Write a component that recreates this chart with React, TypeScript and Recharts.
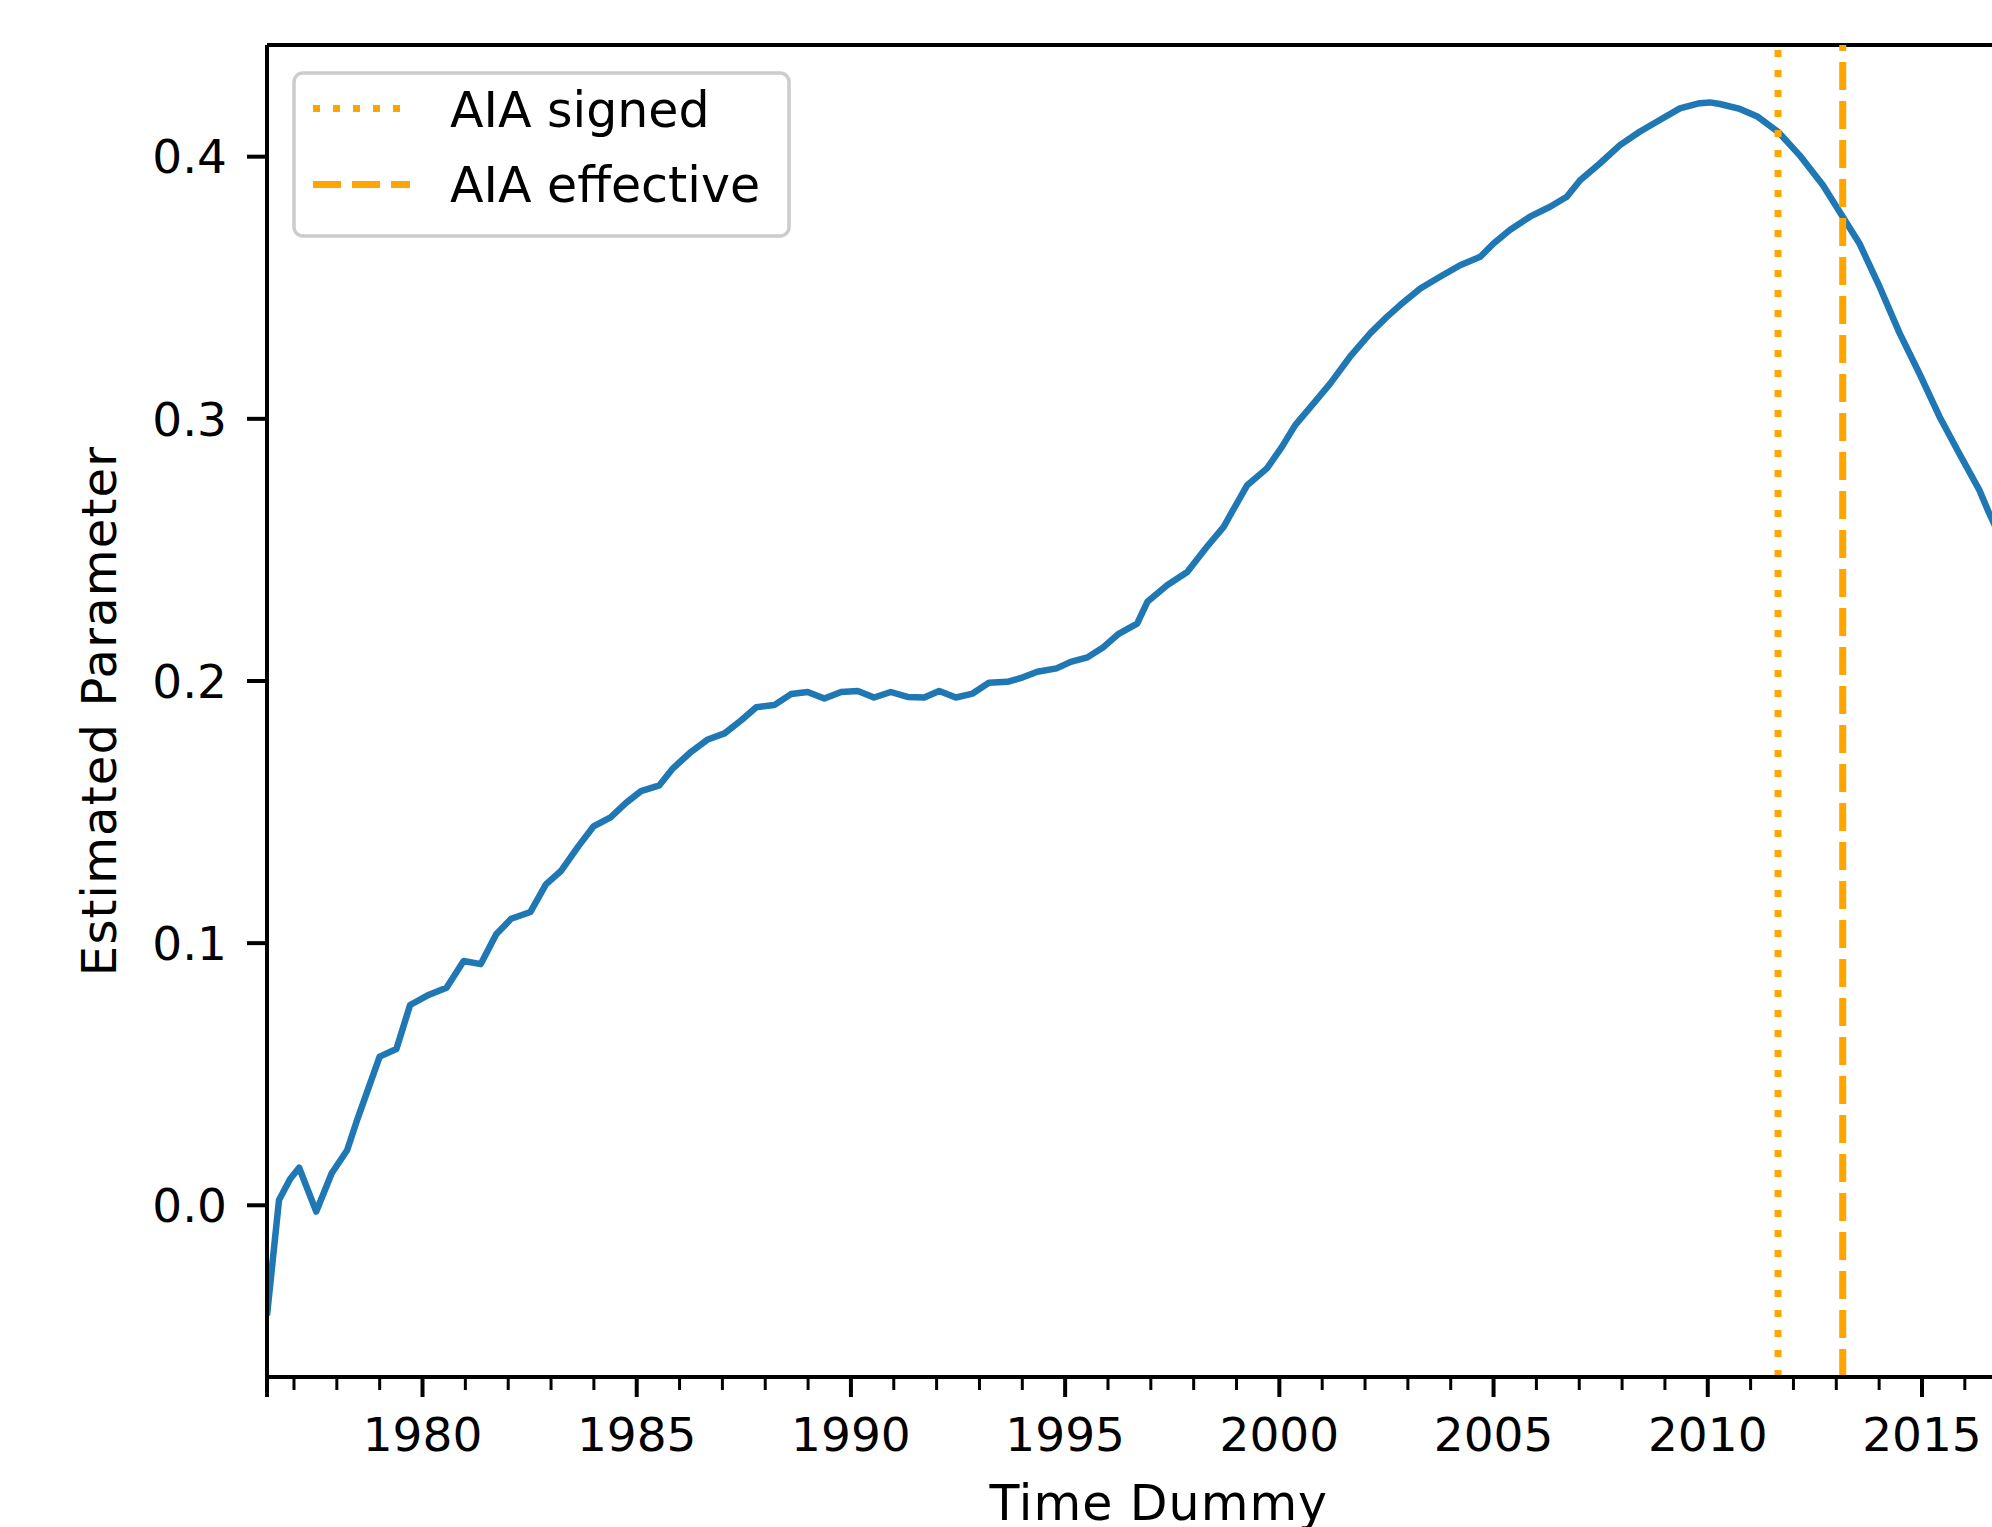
import { LineChart, Line, XAxis, YAxis, ReferenceLine, Legend, Label } from 'recharts'

// time dummy (decimal year) and estimated parameter
const years = [
  1976.37, 1976.65, 1976.91, 1977.12, 1977.52, 1977.88, 1978.24, 1978.46, 1978.73, 1979.0,
  1979.39, 1979.71, 1980.11, 1980.56, 1980.96, 1981.36, 1981.72, 1982.07, 1982.52, 1982.88,
  1983.23, 1983.64, 1983.99, 1984.39, 1984.75, 1985.1, 1985.53, 1985.84, 1986.27, 1986.66,
  1987.05, 1987.44, 1987.79, 1988.21, 1988.6, 1988.99, 1989.38, 1989.77, 1990.16, 1990.54,
  1990.93, 1991.32, 1991.71, 1992.06, 1992.45, 1992.84, 1993.22, 1993.65, 1994.0, 1994.35,
  1994.8, 1995.13, 1995.52, 1995.9, 1996.25, 1996.68, 1996.92, 1997.38, 1997.85, 1998.31,
  1998.7, 1998.94, 1999.25, 1999.71, 2000.06, 2000.37, 2000.8, 2001.19, 2001.65, 2002.12,
  2002.51, 2002.82, 2003.29, 2003.75, 2004.22, 2004.69, 2005.0, 2005.38, 2005.85, 2006.32,
  2006.71, 2007.02, 2007.48, 2007.95, 2008.41, 2008.88, 2009.35, 2009.81, 2010.05, 2010.28,
  2010.75, 2011.17, 2011.64, 2012.14, 2012.69, 2013.15, 2013.54, 2014.01, 2014.48, 2014.94,
  2015.41, 2015.87, 2016.34, 2016.57, 2017.0, 2017.5, 2018.0,
]

const estimates = [
  -0.042, 0.002, 0.01, 0.0143, -0.0024, 0.0122, 0.021, 0.0319, 0.0443, 0.0567,
  0.0596, 0.0764, 0.08, 0.083, 0.0932, 0.092, 0.1034, 0.1093, 0.1119, 0.1224,
  0.1275, 0.137, 0.1445, 0.148, 0.1535, 0.158, 0.1602, 0.1666, 0.173, 0.1777,
  0.18, 0.185, 0.19, 0.1908, 0.195, 0.1958, 0.1933, 0.1958, 0.1962, 0.1937,
  0.1958, 0.1939, 0.1937, 0.1962, 0.1937, 0.1952, 0.1993, 0.1997, 0.2013, 0.2035,
  0.2048, 0.2073, 0.209, 0.213, 0.218, 0.2219, 0.2302, 0.2365, 0.2416, 0.2512,
  0.2588, 0.2658, 0.2747, 0.2811, 0.2893, 0.2976, 0.3059, 0.3135, 0.3237, 0.3326,
  0.3389, 0.3434, 0.3497, 0.3542, 0.3586, 0.3618, 0.3669, 0.372, 0.3771, 0.3809,
  0.3847, 0.391, 0.3974, 0.4044, 0.4095, 0.414, 0.4184, 0.4204, 0.4207, 0.4201,
  0.4182, 0.4152, 0.4095, 0.4006, 0.3891, 0.3771, 0.3669, 0.3504, 0.3326, 0.3173,
  0.3008, 0.2868, 0.2728, 0.2639, 0.249, 0.232, 0.215,
]

const eventNames = ['AIA signed', 'AIA effective']
const eventYears = [2011.64, 2013.15]

const majorYears = [1980, 1985, 1990, 1995, 2000, 2005, 2010, 2015]
const minorYears = [
  1977, 1978, 1979, 1981, 1982, 1983, 1984, 1986, 1987, 1988, 1989, 1991, 1992, 1993, 1994,
  1996, 1997, 1998, 1999, 2001, 2002, 2003, 2004, 2006, 2007, 2008, 2009, 2011, 2012, 2013,
  2014, 2016, 2017,
]
const yTicks = [0, 0.1, 0.2, 0.3, 0.4]

const X_MIN = 1976.37
const X_MAX = 2018.0
const Y_MIN = -0.0655
const Y_MAX = 0.4426

const FONT = '"DejaVu Sans", sans-serif'
const ORANGE = '#ffa500'
const BLUE = '#1f77b4'
const eventDash = ['7 13', '28 11']

const data = years.map((t, i) => ({ t, v: estimates[i] }))
const xTicks = [X_MIN, ...majorYears, ...minorYears].sort((a, b) => a - b)

function YearTick(props: any) {
  const { x, y, payload } = props
  const val = payload.value
  const labelled = majorYears.includes(val)
  const major = labelled || val === X_MIN
  return (
    <g>
      <line
        x1={x}
        x2={x}
        y1={y}
        y2={y + (major ? 20 : 13)}
        stroke="#000"
        strokeWidth={major ? 4 : 3}
      />
      {labelled && (
        <text x={x} y={y + 74} textAnchor="middle" fontSize={47} fill="#000" fontFamily={FONT}>
          {val}
        </text>
      )}
    </g>
  )
}

function renderLegend() {
  return (
    <svg width={499} height={167} style={{ display: 'block' }}>
      <rect x={2} y={2} width={495} height={163} rx={9} fill="#fff" fillOpacity={0.8} stroke="#cccccc" strokeWidth={3.5} />
      {eventNames.map((name, i) => (
        <g key={name}>
          <line
            x1={21}
            x2={118}
            y1={37.5 + i * 76}
            y2={37.5 + i * 76}
            stroke={ORANGE}
            strokeWidth={7}
            strokeDasharray={eventDash[i]}
          />
          <text x={158} y={56 + i * 75} fontSize={49} fill="#000" fontFamily={FONT}>
            {name}
          </text>
        </g>
      ))}
    </svg>
  )
}

export default function App() {
  return (
    <div style={{ position: 'absolute', left: 0, top: 0, width: 1992, height: 1527, overflow: 'hidden', background: '#fff' }}>
      <LineChart
        width={2052}
        height={1527}
        data={data}
        margin={{ top: 45, right: 1.5, bottom: 0, left: 0 }}
        style={{ fontFamily: FONT }}
      >
        <XAxis
          xAxisId="x"
          dataKey="t"
          type="number"
          domain={[X_MIN, X_MAX]}
          allowDataOverflow
          ticks={xTicks}
          interval={0}
          tickSize={0}
          tickMargin={0}
          tickLine={false}
          tick={(p: any) => <YearTick {...p} />}
          axisLine={{ stroke: '#000', strokeWidth: 4 }}
          height={150}
        >
          <Label
            content={(p: any) => {
              const vb = p.viewBox
              const cx = vb ? vb.x + vb.width / 2 : 1158
              const y = vb ? vb.y + 143 : 1520
              return (
                <text x={cx} y={y} textAnchor="middle" fontSize={49} fill="#000" fontFamily={FONT} letterSpacing={1}>
                  Time Dummy
                </text>
              )
            }}
          />
        </XAxis>
        <YAxis
          type="number"
          domain={[Y_MIN, Y_MAX]}
          allowDataOverflow
          ticks={yTicks}
          interval={0}
          width={267}
          tickSize={20}
          tickMargin={20}
          tickFormatter={(v: number) => v.toFixed(1)}
          tick={{ fill: '#000', fontSize: 47, fontFamily: FONT }}
          tickLine={{ stroke: '#000', strokeWidth: 4 }}
          axisLine={{ stroke: '#000', strokeWidth: 4 }}
        >
          <Label
            content={(p: any) => {
              const vb = p.viewBox
              const cy = vb ? vb.y + vb.height / 2 : 711
              return (
                <text
                  x={116}
                  y={cy}
                  transform={`rotate(-90 116 ${cy})`}
                  textAnchor="middle"
                  fontSize={48}
                  fill="#000"
                  fontFamily={FONT}
                  letterSpacing={1.2}
                >
                  Estimated Parameter
                </text>
              )
            }}
          />
        </YAxis>
        {/* top spine of the axes frame */}
        <ReferenceLine xAxisId="x" y={Y_MAX} stroke="#000" strokeWidth={4} ifOverflow="visible" />
        <Line
          xAxisId="x"
          dataKey="v"
          type="linear"
          stroke={BLUE}
          strokeWidth={6.5}
          strokeLinejoin="round"
          dot={false}
          activeDot={false}
          isAnimationActive={false}
          legendType="none"
        />
        {eventYears.map((yr, i) => (
          <ReferenceLine
            key={eventNames[i]}
            xAxisId="x"
            x={yr}
            stroke={ORANGE}
            strokeWidth={7}
            strokeDasharray={eventDash[i]}
          />
        ))}
        <Legend
          content={renderLegend}
          layout="horizontal"
          verticalAlign="middle"
          align="center"
          wrapperStyle={{ left: 292, top: 71, width: 499, height: 167 }}
        />
      </LineChart>
    </div>
  )
}
